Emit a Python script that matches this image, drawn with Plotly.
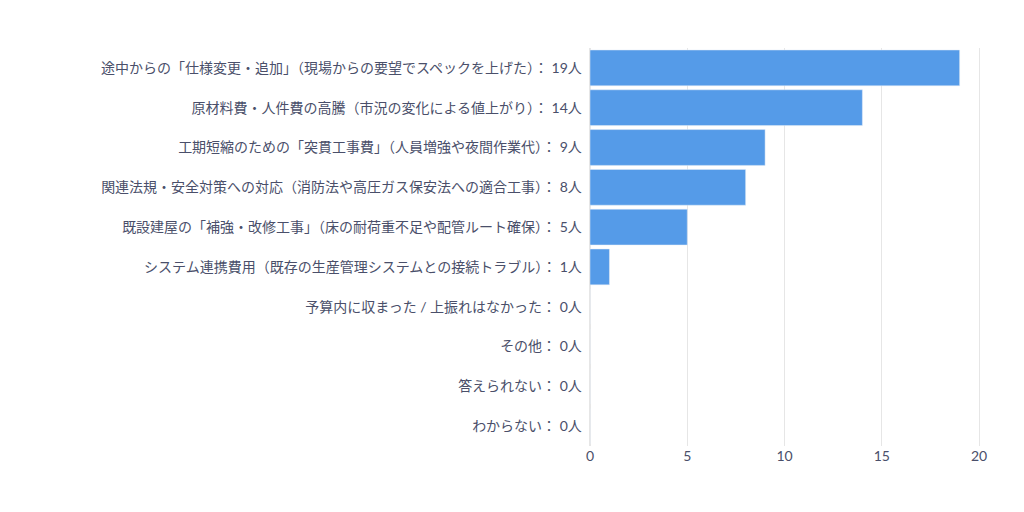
import plotly.graph_objects as go

categories = [
    "途中からの「仕様変更・追加」（現場からの要望でスペックを上げた）",
    "原材料費・人件費の高騰（市況の変化による値上がり）",
    "工期短縮のための「突貫工事費」（人員増強や夜間作業代）",
    "関連法規・安全対策への対応（消防法や高圧ガス保安法への適合工事）",
    "既設建屋の「補強・改修工事」（床の耐荷重不足や配管ルート確保）",
    "システム連携費用（既存の生産管理システムとの接続トラブル）",
    "予算内に収まった / 上振れはなかった",
    "その他",
    "答えられない",
    "わからない",
]
counts = [19, 14, 9, 8, 5, 1, 0, 0, 0, 0]

labels = [f"{c}： {n}人" for c, n in zip(categories, counts)]

fig = go.Figure(go.Bar(
    x=counts, y=labels, orientation="h",
    marker=dict(color="#559be8"),
))
fig.update_layout(
    width=1024, height=512,
    margin=dict(l=582, r=49, t=40, b=74),
    plot_bgcolor="white", paper_bgcolor="white",
    bargap=0.1, showlegend=False,
    font=dict(family="Lato, Noto Sans CJK JP", size=14, color="#4a4f6a"),
)
fig.update_yaxes(autorange="reversed", ticksuffix="  ", showgrid=False, automargin=False)
fig.update_xaxes(range=[0, 20.2], dtick=5, showgrid=True, gridcolor="#e6e6e6",
                 zeroline=True, zerolinecolor="#e6e6e6", ticks="", automargin=False)
fig.write_html("out.html")
